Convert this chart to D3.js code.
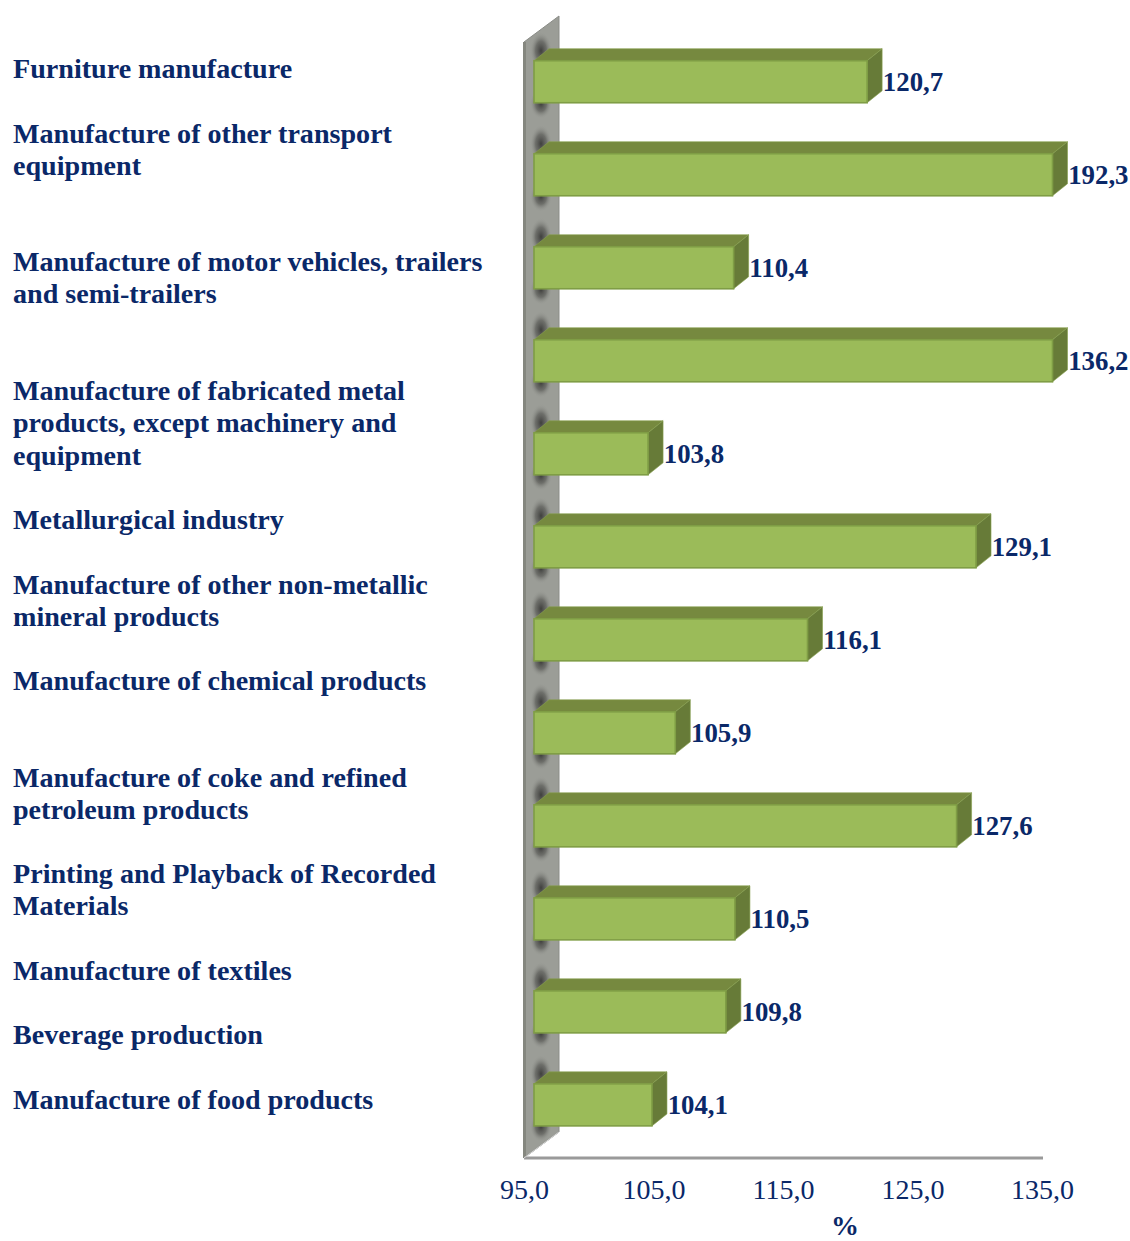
<!DOCTYPE html>
<html><head><meta charset="utf-8">
<script src="https://cdnjs.cloudflare.com/ajax/libs/d3/7.8.5/d3.min.js"></script>
<style>html,body{margin:0;padding:0;background:#fff}svg{display:block}</style>
</head><body><svg id="c" width="1130" height="1241"></svg>
<script>
const categories = ["Furniture manufacture","Manufacture of other transport equipment","Manufacture of motor vehicles, trailers and semi-trailers","Manufacture of fabricated metal products, except machinery and equipment","Metallurgical industry","Manufacture of other non-metallic mineral products","Manufacture of chemical products","Manufacture of coke and refined petroleum products","Printing and Playback of Recorded Materials","Manufacture of textiles","Beverage production","Manufacture of food products"];
const values = [120.7,192.3,110.4,136.2,103.8,129.1,116.1,105.9,127.6,110.5,109.8,104.1];
const ticks = [95,105,115,125,135];
// Category text is set as separate boxes in the source, not aligned to the bars
const labelLines = [["Furniture manufacture"],["Manufacture of other transport","equipment"],["Manufacture of motor vehicles, trailers","and semi-trailers"],["Manufacture of fabricated metal","products, except machinery and","equipment"],["Metallurgical industry"],["Manufacture of other non-metallic","mineral products"],["Manufacture of chemical products"],["Manufacture of coke and refined","petroleum products"],["Printing and Playback of Recorded","Materials"],["Manufacture of textiles"],["Beverage production"],["Manufacture of food products"]];
const labelTop = [78,143,270.5,400,529,594,690,787,883,980,1044,1109];

const navy="#0a2868", font="'Liberation Serif','Times New Roman',serif";
const svg=d3.select("#c");
const dx=15, dy=12;
const xTick=d3.scaleLinear().domain([95,135]).range([524,1042]);
const x=d3.scaleLinear().domain([95,135]).range([534,1052.5]).clamp(true);
const y=d3.scaleBand().domain(categories).range([35.6,1151]).paddingInner(0.548).paddingOuter(0.27);

const defs=svg.append("defs");
const rg=defs.append("radialGradient").attr("id","shade");
rg.append("stop").attr("offset","0").attr("stop-color","#3f3f3d").attr("stop-opacity",1);
rg.append("stop").attr("offset","0.5").attr("stop-color","#5f605c").attr("stop-opacity",.75);
rg.append("stop").attr("offset","1").attr("stop-color","#9b9d97").attr("stop-opacity",0);
const clip=defs.append("clipPath").attr("id","wallclip");
const wall=[[524,42],[559,16],[559,1132],[524,1158]];
clip.append("polygon").attr("points",wall.join(" "));

// wall
svg.append("polygon").attr("points",wall.join(" ")).attr("fill","#9b9d97").attr("stroke","#8a8c87").attr("stroke-width",1);
svg.append("rect").attr("x",523).attr("y",42).attr("width",3).attr("height",1116).attr("fill","#85877f");
const shades=svg.append("g").attr("clip-path","url(#wallclip)");
categories.forEach(c=>{
  const t=y(c),h=y.bandwidth();
  shades.append("ellipse").attr("cx",541).attr("cy",t-10).attr("rx",11).attr("ry",19).attr("fill","url(#shade)");
  shades.append("ellipse").attr("cx",541).attr("cy",t+h+1).attr("rx",11).attr("ry",15).attr("fill","url(#shade)");
});

// floor and axis
const ax=svg.append("g").attr("transform","translate(0,1158)").call(d3.axisBottom(xTick).tickValues(ticks).tickSize(0).tickPadding(21).tickFormat(d=>d3.format(".1f")(d).replace(".",",")));
ax.select(".domain").attr("stroke","#9a9a9a").attr("stroke-width",3).attr("d","M524,0H1043");
ax.selectAll("text").attr("font-family",font).attr("font-size",28).attr("fill",navy);
svg.append("line").attr("x1",524).attr("y1",1158).attr("x2",559).attr("y2",1132).attr("stroke","#d8d8d8").attr("stroke-width",1);

// bars
const g=svg.selectAll("g.bar").data(values).join("g").attr("class","bar");
const yAt=i=>y(categories[i]);
g.append("polygon").attr("fill","#76893f").attr("stroke","#87a04d").attr("stroke-width",.6)
 .attr("points",(d,i)=>{const t=yAt(i),a=x(95),b=x(d);return [[a,t],[a+dx,t-dy],[b+dx,t-dy],[b,t]].join(" ")});
g.append("polygon").attr("fill","#677b38").attr("stroke","#87a04d").attr("stroke-width",.6)
 .attr("points",(d,i)=>{const t=yAt(i),h=y.bandwidth(),b=x(d);return [[b,t],[b+dx,t-dy],[b+dx,t+h-dy],[b,t+h]].join(" ")});
g.append("rect").attr("x",x(95)).attr("y",(d,i)=>yAt(i)).attr("width",d=>x(d)-x(95)).attr("height",y.bandwidth())
 .attr("fill","#9bbb59").attr("stroke","#7f9d45").attr("stroke-width",1.6);
g.append("text").attr("x",d=>x(d)+dx+0.7).attr("y",(d,i)=>yAt(i)+y.bandwidth()/2+9)
 .attr("font-family",font).attr("font-size",26.8).attr("font-weight","bold").attr("fill",navy)
 .text(d=>d.toFixed(1).replace(".",","));

// category labels
const lab=svg.append("g").attr("font-family",font).attr("font-size",28.1).attr("font-weight","bold").attr("fill",navy);
labelLines.forEach((lines,i)=>{
  const t=lab.append("text").attr("x",13).attr("y",labelTop[i]);
  lines.forEach((l,j)=>t.append("tspan").attr("x",13).attr("dy",j?32.4:0).text(l));
});
svg.append("text").attr("x",845).attr("y",1234.5).attr("text-anchor","middle").attr("font-family",font).attr("font-size",28).attr("font-weight","bold").attr("fill",navy).text("%");
</script></body></html>
